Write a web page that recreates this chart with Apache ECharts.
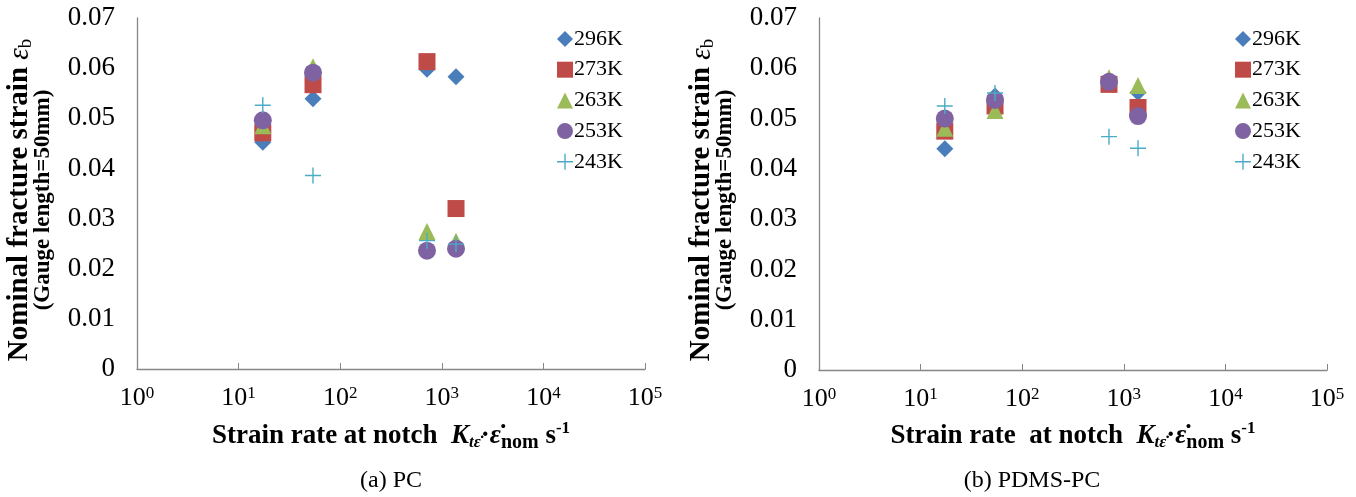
<!DOCTYPE html>
<html><head><meta charset="utf-8">
<script src="https://cdn.jsdelivr.net/npm/echarts@6/dist/echarts.min.js"></script>
<style>html,body{margin:0;padding:0;background:#fff}#c{width:1356px;height:497px}</style>
</head><body><div id="c"></div>
<script>
const seriesNames = ['296K','273K','263K','253K','243K'];
const strainRates = [17.3, 54, 715, 1380];
// (a) PC
const pc296 = [0.0452, 0.0539, 0.0598, 0.0583];
const pc273 = [0.0471, 0.0567, 0.0613, 0.0320];
const pc263 = [0.0485, 0.0603, 0.0274, 0.0255];
const pc253 = [0.0496, 0.0591, 0.0236, 0.0240];
const pc243 = [0.0526, 0.0386, 0.0256, 0.0249];
// (b) PDMS-PC
const pd296 = [0.0440, 0.0545, 0.0570, 0.0552];
const pd273 = [0.0475, 0.0525, 0.0568, 0.0522];
const pd263 = [0.0481, 0.0516, 0.0581, 0.0566];
const pd253 = [0.0500, 0.0537, 0.0573, 0.0505];
const pd243 = [0.0525, 0.0551, 0.0464, 0.0441];
const yTicks = ['0','0.01','0.02','0.03','0.04','0.05','0.06','0.07'];
const xTickExps = ['0','1','2','3','4','5'];

const colors = ['#4A7EBB','#BE4B48','#9BBB59','#7E62A1','#4BACC6'];
const symbols = ['diamond','rect','triangle','circle','path://M0,7.3H16V8.7H0Z M7.3,0H8.7V16H7.3Z'];
const sizes = [17, 17, 17, 18, 16];
const serif = '"Liberation Serif","Times New Roman",serif';

const grids = [
  {left:137, top:18, width:508, height:351},
  {left:819, top:18, width:508, height:352}
];
function xAxis(i){
  return {type:'log', logBase:10, min:1, max:100000, gridIndex:i,
    axisLine:{lineStyle:{color:'#868686', width:1.3}},
    axisTick:{inside:true, length:6, lineStyle:{color:'#868686'}},
    splitLine:{show:false}, minorTick:{show:false},
    axisLabel:{margin:16, color:'#000', fontFamily:serif, fontSize:26,
      formatter:function(v){const e=Math.round(Math.log10(v));return '{n|10}{s|'+xTickExps[e]+'}';},
      rich:{n:{fontFamily:serif, fontSize:26, color:'#000'},
            s:{fontFamily:serif, fontSize:17, color:'#000', verticalAlign:'top', padding:[0,0,10,0]}}}
  };
}
function yAxis(i){
  return {type:'value', min:0, max:0.07, interval:0.01, gridIndex:i,
    axisLine:{show:true, lineStyle:{color:'#868686', width:1.3}},
    axisTick:{show:false}, splitLine:{show:false},
    axisLabel:{margin:22, color:'#000', fontFamily:serif, fontSize:27,
      formatter:function(v){return yTicks[Math.round(v*100)];}}
  };
}
const allData = [[pc296,pc273,pc263,pc253,pc243],[pd296,pd273,pd263,pd253,pd243]];
const series = [];
for (let g=0; g<2; g++){
  for (let k=0; k<5; k++){
    series.push({
      name: seriesNames[k], type:'scatter', xAxisIndex:g, yAxisIndex:g,
      symbol: symbols[k], symbolSize: sizes[k],
      itemStyle:{color:colors[k], opacity:1},
      data: strainRates.map((x,j)=>[x, allData[g][k][j]]),
      z: 2+k
    });
  }
}
function legend(left){
  return {orient:'vertical', left:left, top:23, itemWidth:16, itemHeight:16, itemGap:8.7,
    data: seriesNames.map((n,k)=>({name:n, icon:symbols[k]})),
    textStyle:{fontFamily:serif, fontSize:22, lineHeight:22, color:'#000', padding:[0,0,0,-4]}};
}
const yRich = {
  t:{fontFamily:serif, fontWeight:'bold', fontSize:29, fill:'#000'},
  e:{fontFamily:serif, fontStyle:'italic', fontSize:29, fill:'#000'},
  sb:{fontFamily:serif, fontSize:19, fill:'#000', padding:[12,0,0,0]},
  g:{fontFamily:serif, fontWeight:'bold', fontSize:23, fill:'#000'}
};
const xRich = {
  t:{fontFamily:serif, fontWeight:'bold', fontSize:27, fill:'#000'},
  i:{fontFamily:serif, fontWeight:'bold', fontStyle:'italic', fontSize:27, fill:'#000'},
  sub:{fontFamily:serif, fontWeight:'bold', fontStyle:'italic', fontSize:17, fill:'#000', padding:[14,0,0,0]},
  subn:{fontFamily:serif, fontWeight:'bold', fontSize:20, fill:'#000', padding:[14,0,0,0]},
  sup:{fontFamily:serif, fontWeight:'bold', fontSize:17, fill:'#000', padding:[0,0,14,0]}
};
function yTitle(x1, x2, cy){
  return [
    {type:'text', x:x1, y:cy, rotation:Math.PI/2,
      style:{text:'{t|Nominal fracture strain }{e|ε}{sb|b}', rich:yRich, align:'center', verticalAlign:'middle'}},
    {type:'text', x:x2, y:cy, rotation:Math.PI/2,
      style:{text:'{g|(Gauge length=50mm)}', rich:yRich, align:'center', verticalAlign:'middle'}}
  ];
}
function xTitle(cx, label){
  return {type:'text', x:cx, y:436,
    style:{text:'{t|'+label+'}{i|K}{sub|tε̇}{t|·}{i|ε̇}{subn|nom}{t| s}{sup|-1}', rich:xRich, align:'center', verticalAlign:'middle'}};
}
function caption(cx, text){
  return {type:'text', x:cx, y:481, style:{text:text, font:'24px '+serif, fill:'#000', align:'center', verticalAlign:'middle'}};
}
const chart = echarts.init(document.getElementById('c'), null, {renderer:'canvas'});
chart.setOption({
  backgroundColor:'#fff',
  animation:false,
  grid: grids,
  xAxis:[xAxis(0), xAxis(1)],
  yAxis:[yAxis(0), yAxis(1)],
  legend:[legend(552), legend(1230)],
  series: series,
  graphic: [].concat(
    yTitle(20, 43, 200), yTitle(702, 725, 200),
    [xTitle(391, 'Strain rate at notch  '), xTitle(1073, 'Strain rate  at notch  '),
     caption(391, '(a) PC'), caption(1032, '(b) PDMS-PC')]
  )
});
</script></body></html>
